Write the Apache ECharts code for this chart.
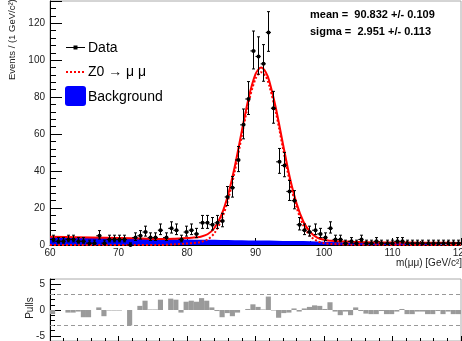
<!DOCTYPE html>
<html>
<head>
<meta charset="utf-8">
<script src="https://cdn.jsdelivr.net/npm/echarts@6/dist/echarts.min.js"></script>
<style>
  html, body { margin: 0; padding: 0; background: #fff; }
  #chart { width: 462px; height: 341px; }
</style>
</head>
<body>
<div id="chart"></div>
<script>
// Dimuon invariant mass histogram: 80 bins between 60 and 120 GeV/c^2
const massLow = 60;
const massHigh = 120;
const binWidth = 0.75;

// Events per bin
const counts = [
  3, 2, 2, 3, 3, 2, 2, 1, 1, 5,
  1, 3, 3, 3, 3, 0, 4, 5, 7, 4,
  4, 8, 4, 9, 8, 3, 7, 8, 6, 12,
  12, 11, 12, 13, 26, 31, 46, 65, 79, 105,
  102, 98, 115, 74, 45, 43, 29, 24, 11, 8,
  7, 8, 6, 4, 9, 3, 3, 1, 2, 1,
  3, 1, 1, 2, 1, 1, 1, 2, 2, 1,
  1, 1, 1, 1, 1, 1, 1, 1, 1, 1
];

// Pull of each bin, (data - fit) / error
const pulls = [
  -0.8, 0, 0, -0.5, -0.5, -0.3, -1.4, -1.4, 0, 0.5,
  -1.2, -0.1, -0.1, -0.1, 0, -3.0, 0, 0.8, 1.8, 0.1,
  0.1, 2.0, 0, 2.2, 2.0, -0.5, 1.6, 1.8, 1.6, 2.3,
  1.8, 0.5, -0.2, -1.4, -0.6, -1.2, -0.5, 0, 0.2, 1.1,
  0.6, 0.1, 2.6, -0.1, -1.5, -0.6, -0.5, 0.3, -0.3, 0.3,
  0.6, 0.9, 0.8, 0.2, 1.5, -0.3, -1.0, -0.3, -1.0, 0.5,
  -0.2, -0.7, -0.8, -0.8, -0.2, -0.8, -0.8, -0.3, 0.2, -0.8,
  -0.8, -0.3, -0.3, -0.8, -0.8, -0.2, -0.8, -0.3, -0.8, -0.8
];

// Fitted model sampled along the mass axis
const curveMass = [
  60, 64, 68, 72, 76, 78, 80, 81, 82, 83, 84, 85, 86, 87, 88, 89, 90, 90.8,
  91.5, 92, 93, 94, 95, 96, 97, 98, 99, 100, 101, 102, 104, 108, 112, 116, 120
];
const totalCurve = [
  4.5, 4.2, 3.9, 3.6, 3.3, 3.4, 3.8, 4.0, 4.5, 5.8, 9.2, 16.0, 27.2, 42.9, 61.6, 79.6, 92.4, 96.0,
  93.5, 88.8, 73.6, 54.8, 36.6, 22.4, 12.6, 7.0, 4.0, 2.8, 2.3, 2.0, 1.7, 1.4, 1.3, 1.2, 1.1
];
const signalCurve = [
  0, 0, 0, 0, 0, 0.3, 0.8, 1.1, 1.6, 3.0, 6.4, 13.3, 24.5, 40.3, 59.0, 77.1, 89.9, 93.5,
  91.1, 86.4, 71.3, 52.5, 34.4, 20.2, 10.5, 4.9, 2.1, 1.0, 0.6, 0.4, 0.2, 0.1, 0, 0, 0
];
const backgroundCurve = [
  4.4, 4.1, 3.8, 3.5, 3.2, 3.1, 3.0, 2.9, 2.9, 2.8, 2.8, 2.7, 2.7, 2.6, 2.6, 2.5, 2.5, 2.5,
  2.4, 2.4, 2.3, 2.2, 2.2, 2.1, 2.1, 2.0, 1.9, 1.8, 1.6, 1.5, 1.3, 1.1, 1.0, 0.9, 0.8
];

// Fit parameters
const fitMean = '90.832', fitMeanErr = '0.109';
const fitSigma = '2.951', fitSigmaErr = '0.113';

// Axis ticks
const pullTicks = [-5, 0, 5];
const legendLabels = ['Data', 'Z0 \u2192 \u03bc \u03bc', 'Background'];

const FONT = '"Liberation Sans", Arial, Helvetica, sans-serif';

// Bin centres and Poisson error bars
const centers = counts.map((_, i) => massLow + binWidth * (i + 0.5));
const dataPoints = counts.map((n, i) => {
  const lo = n > 0 ? n - (Math.sqrt(n + 0.25) - 0.5) : 0;
  const hi = n > 0 ? n + (Math.sqrt(n + 0.25) + 0.5) : 1.15;
  return [centers[i], n, lo, hi];
});
const pullPoints = pulls.map((p, i) => [centers[i], p]);
const pairs = (ys) => curveMass.map((m, i) => [m, ys[i]]);

function renderData(params, api) {
  const x = api.value(0), y = api.value(1), lo = api.value(2), hi = api.value(3);
  const c = api.coord([x, y]);
  const l = api.coord([x - binWidth / 2, y]);
  const r = api.coord([x + binWidth / 2, y]);
  const b = api.coord([x, lo]);
  const t = api.coord([x, hi]);
  const cx = Math.round(c[0]) + 0.5;
  const s = { stroke: '#000', lineWidth: 1 };
  return {
    type: 'group',
    children: [
      { type: 'line', shape: { x1: cx, y1: b[1], x2: cx, y2: t[1] }, style: s },
      { type: 'line', shape: { x1: cx - 1.5, y1: t[1], x2: cx + 1.5, y2: t[1] }, style: s },
      { type: 'line', shape: { x1: cx - 1.5, y1: b[1], x2: cx + 1.5, y2: b[1] }, style: s },
      { type: 'line', shape: { x1: l[0], y1: c[1], x2: r[0], y2: c[1] }, style: s },
      { type: 'circle', shape: { cx: cx, cy: c[1], r: 2 }, style: { fill: '#000' } }
    ]
  };
}

function renderPull(params, api) {
  const x = api.value(0), p = api.value(1);
  const a = api.coord([x - binWidth / 2, 0]);
  const b = api.coord([x + binWidth / 2, p]);
  return {
    type: 'rect',
    shape: { x: a[0], y: Math.min(a[1], b[1]), width: b[0] - a[0], height: Math.abs(b[1] - a[1]) },
    style: { fill: '#9a9a9a' }
  };
}

const labelStyle = { color: '#222', fontFamily: FONT, fontSize: 10 };

const chart = echarts.init(document.getElementById('chart'), null, { renderer: 'canvas' });
chart.setOption({
  animation: false,
  backgroundColor: '#fff',
  grid: [
    { left: 50, top: 1, width: 411, height: 244, outerBoundsMode: 'none', containLabel: false,
      show: true, borderColor: '#aaa', borderWidth: 1, backgroundColor: 'transparent' },
    { left: 50, top: 279, width: 411, height: 62, outerBoundsMode: 'none', containLabel: false,
      show: true, borderColor: '#aaa', borderWidth: 1, backgroundColor: 'transparent' }
  ],
  xAxis: [
    {
      type: 'value', gridIndex: 0, min: massLow, max: massHigh, interval: 10,
      axisLine: { show: true, onZero: false, lineStyle: { color: '#000', width: 1 } },
      axisTick: { show: true, inside: true, length: 7, lineStyle: { color: '#000' } },
      minorTick: { show: true, splitNumber: 5, length: 4, lineStyle: { color: '#000' } },
      axisLabel: Object.assign({ margin: 3, alignMinLabel: 'center', alignMaxLabel: 'center' }, labelStyle),
      splitLine: { show: false }
    },
    {
      type: 'value', gridIndex: 1, min: massLow, max: massHigh, interval: 10,
      axisLine: { show: true, onZero: false, lineStyle: { color: '#000', width: 1 } },
      axisTick: { show: true, inside: true, length: 5, lineStyle: { color: '#000' } },
      minorTick: { show: true, splitNumber: 5, length: 3, lineStyle: { color: '#000' } },
      axisLabel: { show: false },
      splitLine: { show: false }
    }
  ],
  yAxis: [
    {
      type: 'value', gridIndex: 0, min: 0, max: 132, interval: 20,
      axisLine: { show: true, onZero: false, lineStyle: { color: '#000', width: 1 } },
      axisTick: { show: true, inside: true, length: 12, lineStyle: { color: '#000' } },
      minorTick: { show: true, splitNumber: 5, length: 6, lineStyle: { color: '#000' } },
      axisLabel: Object.assign({ margin: 5, showMaxLabel: false }, labelStyle),
      splitLine: { show: false }
    },
    {
      type: 'value', gridIndex: 1, position: 'left', min: -6, max: 6, interval: 1,
      axisLine: { show: true, onZero: false, lineStyle: { color: '#000', width: 1 } },
      axisTick: { show: true, inside: true, length: 5, lineStyle: { color: '#000' } },
      axisLabel: { show: false },
      splitLine: { show: false }
    },
    {
      type: 'value', gridIndex: 1, position: 'left', min: -6, max: 6,
      axisLine: { show: false },
      axisTick: { show: true, inside: true, length: 11, customValues: pullTicks, lineStyle: { color: '#000' } },
      axisLabel: Object.assign({ margin: 5, customValues: pullTicks }, labelStyle),
      splitLine: { show: false }
    }
  ],
  series: [
    {
      name: legendLabels[2], type: 'line', xAxisIndex: 0, yAxisIndex: 0,
      data: pairs(backgroundCurve), showSymbol: false, symbol: 'none',
      lineStyle: { width: 0 }, areaStyle: { color: '#0000ff', opacity: 1 }, z: 1
    },
    {
      name: 'total', type: 'line', xAxisIndex: 0, yAxisIndex: 0,
      data: pairs(totalCurve), showSymbol: false, symbol: 'none', smooth: 0.3,
      lineStyle: { color: '#ff0000', width: 2 }, z: 2
    },
    {
      name: legendLabels[1], type: 'line', xAxisIndex: 0, yAxisIndex: 0,
      data: pairs(signalCurve), showSymbol: false, symbol: 'none', smooth: 0.3,
      lineStyle: { color: '#ff0000', width: 2, type: [2, 2] }, z: 3
    },
    {
      name: legendLabels[0], type: 'custom', xAxisIndex: 0, yAxisIndex: 0,
      data: dataPoints, renderItem: renderData, encode: { x: 0, y: [1, 2, 3] }, z: 4
    },
    {
      name: 'pulls', type: 'custom', xAxisIndex: 1, yAxisIndex: 1,
      data: pullPoints, renderItem: renderPull, encode: { x: 0, y: 1 }, z: 2,
      markLine: {
        silent: true, symbol: 'none', label: { show: false },
        lineStyle: { color: '#999', width: 1, type: [4, 3] },
        data: [{ yAxis: 3 }, { yAxis: -3 }]
      }
    }
  ],
  graphic: [
    // legend
    { type: 'line', shape: { x1: 66, y1: 47.5, x2: 85, y2: 47.5 }, style: { stroke: '#000', lineWidth: 1 } },
    { type: 'rect', shape: { x: 73.5, y: 45.5, width: 4, height: 4 }, style: { fill: '#000' } },
    { type: 'text', x: 88, y: 48, style: { text: legendLabels[0], fontFamily: FONT, fontSize: 14, fill: '#000', verticalAlign: 'middle', align: 'left' } },
    { type: 'line', shape: { x1: 66, y1: 72, x2: 86, y2: 72 }, style: { stroke: '#ff0000', lineWidth: 2, lineDash: [2, 2] } },
    { type: 'text', x: 88, y: 72, style: { text: legendLabels[1], fontFamily: FONT, fontSize: 14, fill: '#000', verticalAlign: 'middle', align: 'left' } },
    { type: 'rect', shape: { x: 65, y: 86, width: 21, height: 20, r: 3 }, style: { fill: '#0000ff' } },
    { type: 'text', x: 88, y: 97, style: { text: legendLabels[2], fontFamily: FONT, fontSize: 14, fill: '#000', verticalAlign: 'middle', align: 'left' } },
    // fit parameters
    { type: 'text', x: 310, y: 15, style: { text: 'mean =  ' + fitMean + ' +/- ' + fitMeanErr, fontFamily: FONT, fontSize: 11, fontWeight: 'bold', fill: '#000', verticalAlign: 'middle', align: 'left' } },
    { type: 'text', x: 310, y: 32, style: { text: 'sigma =  ' + fitSigma + ' +/- ' + fitSigmaErr, fontFamily: FONT, fontSize: 11, fontWeight: 'bold', fill: '#000', verticalAlign: 'middle', align: 'left' } },
    // axis titles
    { type: 'text', x: 12, y: 80, rotation: Math.PI / 2, style: { text: 'Events / (1 GeV/c\u00b2)', fontFamily: FONT, fontSize: 9.5, fill: '#222', verticalAlign: 'middle', align: 'left' } },
    { type: 'text', x: 462, y: 263, style: { text: 'm(\u03bc\u03bc) [GeV/c\u00b2]', fontFamily: FONT, fontSize: 10, fill: '#222', verticalAlign: 'middle', align: 'right' } },
    { type: 'text', x: 30, y: 308, rotation: Math.PI / 2, style: { text: 'Pulls', fontFamily: FONT, fontSize: 10, fill: '#222', verticalAlign: 'middle', align: 'center' } }
  ]
});
</script>
</body>
</html>
